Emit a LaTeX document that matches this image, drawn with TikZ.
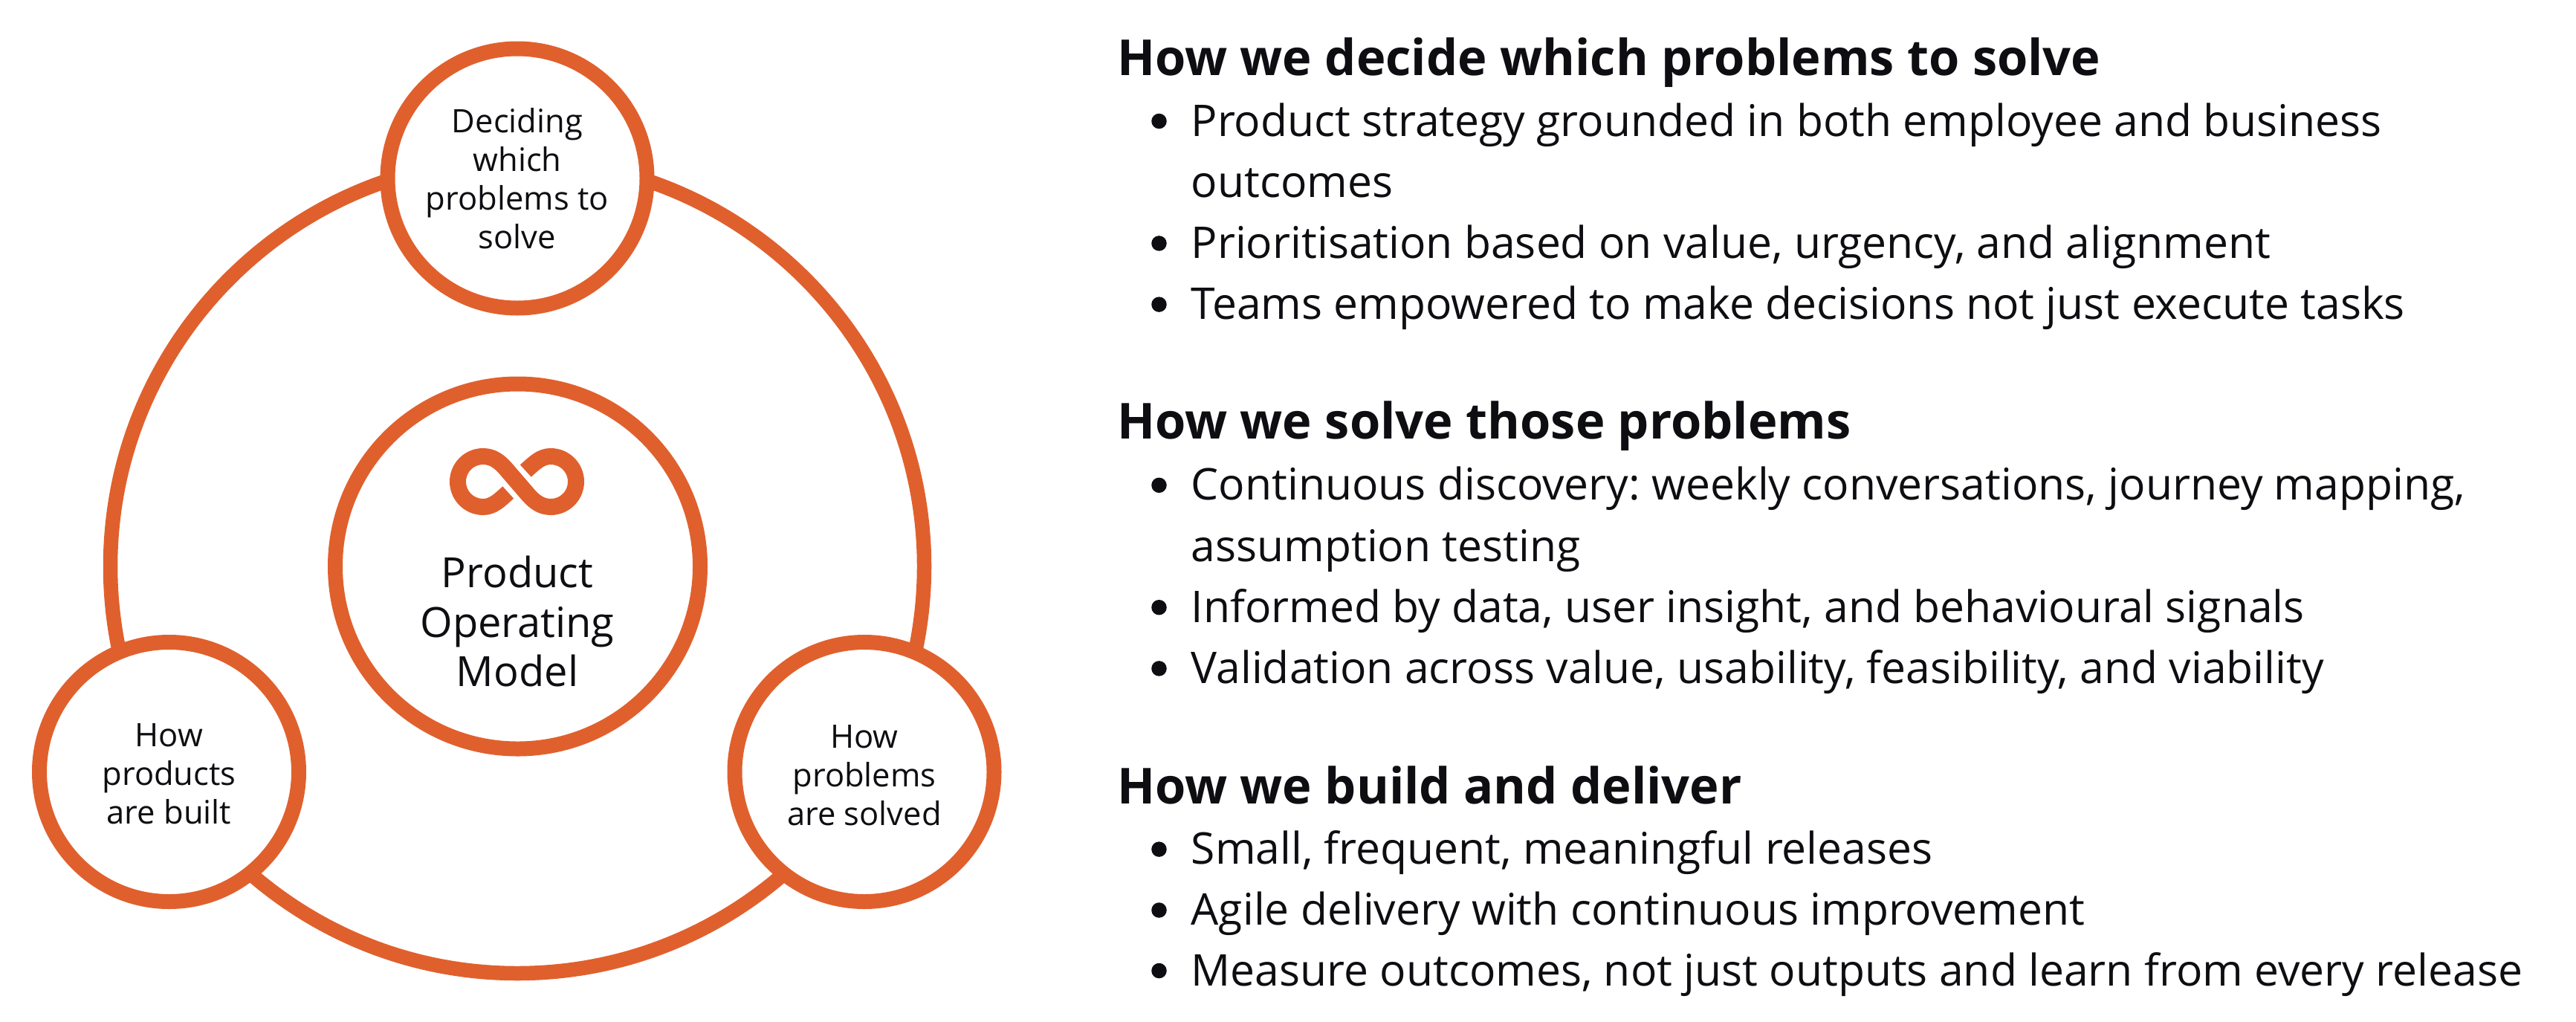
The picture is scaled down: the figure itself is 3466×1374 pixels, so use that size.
\documentclass[tikz,border=0pt]{standalone}
\usepackage{fontspec}
\setmainfont{Open Sans}
\definecolor{org}{HTML}{E0602D}
\definecolor{ink}{HTML}{0E0E12}
\begin{document}
\frenchspacing
\begin{tikzpicture}[x=1pt,y=-1pt,
  ring/.style={circle,draw=org,line width=20pt,fill=white,inner sep=0pt},
  smalltxt/.style={inner sep=0pt,align=center,text=ink,font=\fontsize{43.5}{52}\selectfont},
  bigtxt/.style={inner sep=0pt,align=center,text=ink,font=\fontsize{56}{66.5}\selectfont},
  head/.style={anchor=base west,inner sep=0pt,font=\bfseries\fontsize{66.8}{80}\selectfont,text=ink},
  item/.style={anchor=base west,inner sep=0pt,font=\fontsize{58.8}{72}\selectfont,text=ink},
  bul/.style={circle,fill=ink,inner sep=0pt,minimum size=20.5pt}]
\useasboundingbox (0,0) rectangle (3466,1374);
\fill[white] (0,0) rectangle (3466,1374);
\draw[org,line width=19.5pt] (696,762) circle (547.5);
\node[ring,minimum size=349pt] (top) at (696,240) {};
\node[ring,minimum size=349pt] (left) at (227.5,1038.5) {};
\node[ring,minimum size=349pt] (right) at (1163,1038.5) {};
\node[ring,minimum size=491pt] (mid) at (696.5,762) {};
\node[smalltxt] (toplabel) at (696,240.5) {Deciding\\which\\problems to\\solve};
\node[smalltxt] (leftlabel) at (227.5,1041) {How\\products\\are built};
\node[smalltxt] (rightlabel) at (1163,1043) {How\\problems\\are solved};
\node[bigtxt] (midlabel) at (696,836.3) {Product\\Operating\\Model};
\draw[org,line width=22pt] (683.7,662.5) .. controls (671.7,673.5) and (663,682) .. (650,682)
  .. controls (631.2,682) and (616,666.8) .. (616,648)
  .. controls (616,629.2) and (631.2,614) .. (650,614)
  .. controls (663,614) and (672,621) .. (680,630)
  -- (711,666)
  .. controls (719,675) and (728,682) .. (741,682)
  .. controls (759.8,682) and (775,666.8) .. (775,648)
  .. controls (775,629.2) and (759.8,614) .. (741,614)
  .. controls (728,614) and (719.3,622.5) .. (707.3,633.5);
\node[head] (h1) at (1503,101) {How we decide which problems to solve};
\node[head] (h2) at (1503,590.8) {How we solve those problems};
\node[head] (h3) at (1503,1081) {How we build and deliver};
\foreach \t/\y/\b in {Product strategy grounded in both employee and business/183/1,outcomes/265.2/0,{Prioritisation based on value, urgency, and alignment}/347.4/1,Teams empowered to make decisions not just execute tasks/429.6/1,{Continuous discovery: weekly conversations, journey mapping,}/672.8/1,assumption testing/755/0,{Informed by data, user insight, and behavioural signals}/837.2/1,{Validation across value, usability, feasibility, and viability}/919.4/1,{Small, frequent, meaningful releases}/1162.6/1,Agile delivery with continuous improvement/1244.5/1,{Measure outcomes, not just outputs and learn from every release}/1326/1}{
  \node[item] at (1602.5,\y) {\t};
  \ifnum\b=1 \node[bul] at (1559.5,\y-20) {};\fi
}
\end{tikzpicture}
\end{document}
